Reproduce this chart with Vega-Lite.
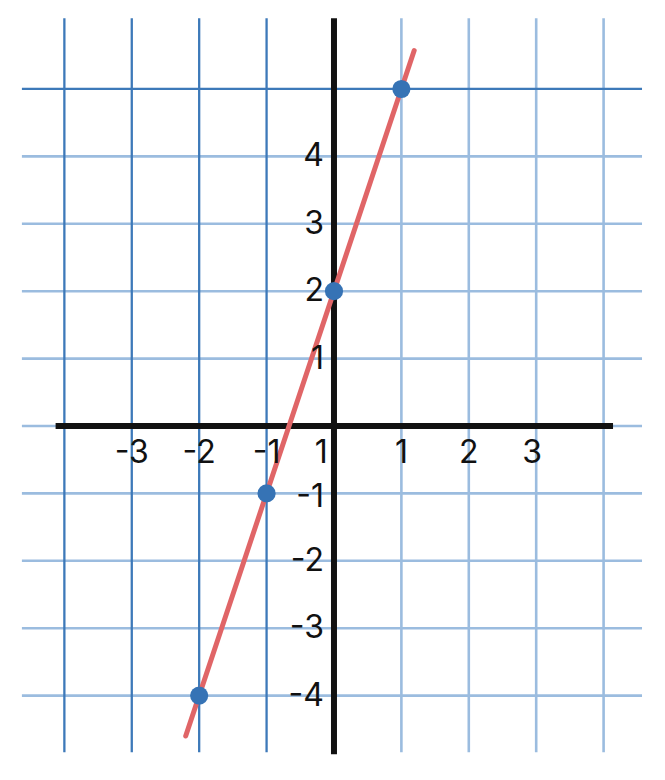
{
  "$schema": "https://vega.github.io/schema/vega-lite/v6.json",
  "width": 665,
  "height": 780,
  "padding": 0,
  "autosize": {"type": "none"},
  "config": {"view": {"stroke": null}},
  "datasets": {
    "vgrid": [
      {"x": -4, "y": -4.84, "y2": 6.05, "tone": "dark"},
      {"x": -3, "y": -4.84, "y2": 6.05, "tone": "dark"},
      {"x": -2, "y": -4.84, "y2": 6.05, "tone": "dark"},
      {"x": -1, "y": -4.84, "y2": 6.05, "tone": "dark"},
      {"x": 1, "y": -4.84, "y2": 6.05, "tone": "light"},
      {"x": 2, "y": -4.84, "y2": 6.05, "tone": "light"},
      {"x": 3, "y": -4.84, "y2": 6.05, "tone": "light"},
      {"x": 4, "y": -4.84, "y2": 6.05, "tone": "light"}
    ],
    "hgrid": [
      {"y": 5, "x": -4.63, "x2": 4.57, "tone": "dark"},
      {"y": 4, "x": -4.63, "x2": 4.57, "tone": "light"},
      {"y": 3, "x": -4.63, "x2": 4.57, "tone": "light"},
      {"y": 2, "x": -4.63, "x2": 4.57, "tone": "light"},
      {"y": 1, "x": -4.63, "x2": 4.57, "tone": "light"},
      {"y": 0, "x": -4.63, "x2": 4.57, "tone": "light"},
      {"y": -1, "x": -4.63, "x2": 4.57, "tone": "light"},
      {"y": -2, "x": -4.63, "x2": 4.57, "tone": "light"},
      {"y": -3, "x": -4.63, "x2": 4.57, "tone": "light"},
      {"y": -4, "x": -4.63, "x2": 4.57, "tone": "light"}
    ],
    "axes": [
      {"x": -4.13, "x2": 4.14, "y": 0, "y2": 0},
      {"x": 0, "x2": 0, "y": -4.87, "y2": 6.05}
    ],
    "line": [
      {"x": -2.2, "y": -4.6},
      {"x": 1.19, "y": 5.57}
    ],
    "points": [
      {"x": 1, "y": 5},
      {"x": 0, "y": 2},
      {"x": -1, "y": -1},
      {"x": -2, "y": -4}
    ],
    "xlabels": [
      {"x": -3, "y": 0, "t": "-3"},
      {"x": -2, "y": 0, "t": "-2"},
      {"x": -1, "y": 0, "t": "-1"},
      {"x": -0.19, "y": 0, "t": "1"},
      {"x": 1, "y": 0, "t": "1"},
      {"x": 2, "y": 0, "t": "2"},
      {"x": 2.94, "y": 0, "t": "3"}
    ],
    "ylabels": [
      {"x": 0, "y": 4, "t": "4"},
      {"x": 0, "y": 3, "t": "3"},
      {"x": 0, "y": 2, "t": "2"},
      {"x": 0, "y": 1, "t": "1"},
      {"x": 0, "y": -1.05, "t": "-1"},
      {"x": 0, "y": -2, "t": "-2"},
      {"x": 0, "y": -3, "t": "-3"},
      {"x": 0, "y": -4, "t": "-4"}
    ]
  },
  "encoding": {
    "x": {"field": "x", "type": "quantitative", "scale": {"domain": [-4.955, 4.911], "nice": false, "zero": false}, "axis": null},
    "y": {"field": "y", "type": "quantitative", "scale": {"domain": [-5.252, 6.32], "nice": false, "zero": false}, "axis": null}
  },
  "layer": [
    {
      "data": {"name": "vgrid"},
      "transform": [{"filter": "datum.tone === 'light'"}],
      "mark": {"type": "rule", "color": "#9bbcdf", "strokeWidth": 2.6},
      "encoding": {"y2": {"field": "y2"}}
    },
    {
      "data": {"name": "hgrid"},
      "transform": [{"filter": "datum.tone === 'light'"}],
      "mark": {"type": "rule", "color": "#9bbcdf", "strokeWidth": 2.6},
      "encoding": {"x2": {"field": "x2"}}
    },
    {
      "data": {"name": "vgrid"},
      "transform": [{"filter": "datum.tone === 'dark'"}],
      "mark": {"type": "rule", "color": "#3d79b9", "strokeWidth": 2.3},
      "encoding": {"y2": {"field": "y2"}}
    },
    {
      "data": {"name": "hgrid"},
      "transform": [{"filter": "datum.tone === 'dark'"}],
      "mark": {"type": "rule", "color": "#3d79b9", "strokeWidth": 2.3},
      "encoding": {"x2": {"field": "x2"}}
    },
    {
      "data": {"name": "axes"},
      "mark": {"type": "rule", "color": "#111111", "strokeWidth": 6},
      "encoding": {"x2": {"field": "x2"}, "y2": {"field": "y2"}}
    },
    {
      "data": {"name": "line"},
      "mark": {"type": "line", "color": "#e06567", "strokeWidth": 5, "strokeCap": "round"},
      "encoding": {}
    },
    {
      "data": {"name": "points"},
      "mark": {"type": "circle", "color": "#3673b5", "size": 330, "opacity": 1},
      "encoding": {}
    },
    {
      "data": {"name": "xlabels"},
      "mark": {"type": "text", "font": "Inter", "fontSize": 32, "color": "#111111", "align": "center", "baseline": "middle", "dy": 27},
      "encoding": {"text": {"field": "t"}}
    },
    {
      "data": {"name": "ylabels"},
      "mark": {"type": "text", "font": "Inter", "fontSize": 32, "color": "#111111", "align": "right", "baseline": "middle", "dx": -10},
      "encoding": {"text": {"field": "t"}}
    }
  ]
}
